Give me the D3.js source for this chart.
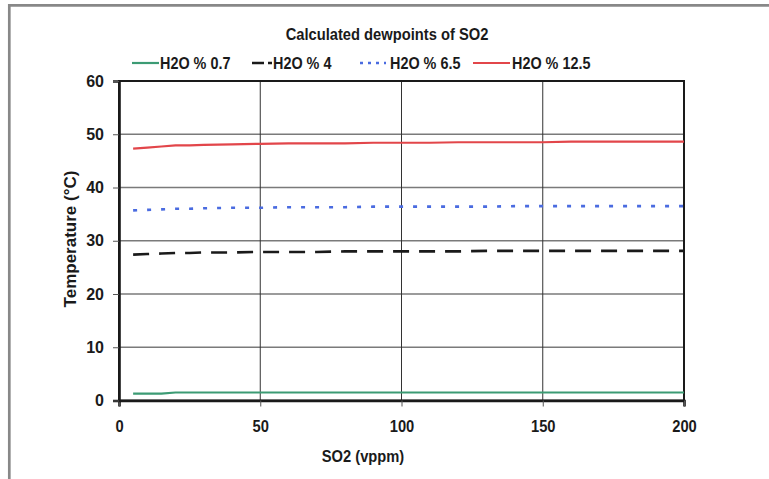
<!DOCTYPE html>
<html>
<head>
<meta charset="utf-8">
<script src="https://cdn.jsdelivr.net/npm/d3@7"></script>
<style>
  body { margin: 0; background: #fff; }
  text { font-family: "Liberation Sans", Arial, sans-serif; font-weight: bold; fill: #1a1a1a; }
  text.narrow { transform-box: fill-box; transform-origin: center; transform: scaleX(0.92); }
  text.narrow-legend { transform-box: fill-box; transform-origin: left center; transform: scaleX(0.9); }
</style>
</head>
<body>
<svg id="chart" width="769" height="479"></svg>
<script>
// SO2 concentration (vppm) at which each dewpoint was calculated
const so2 = [5, 10, 15, 20, 25, 30, 40, 50, 60, 70, 80, 90, 100, 110, 120, 130, 140, 150, 160, 170, 180, 190, 200];

// Dewpoint temperature (°C) for each water content
const dew07  = [1.3, 1.3, 1.3, 1.5, 1.5, 1.5, 1.5, 1.5, 1.5, 1.5, 1.5, 1.5, 1.5, 1.5, 1.5, 1.5, 1.5, 1.5, 1.5, 1.5, 1.5, 1.5, 1.5];
const dew4   = [27.4, 27.5, 27.6, 27.7, 27.7, 27.8, 27.8, 27.9, 27.9, 27.9, 28.0, 28.0, 28.0, 28.0, 28.0, 28.1, 28.1, 28.1, 28.1, 28.1, 28.1, 28.1, 28.1];
const dew65  = [35.7, 35.8, 35.9, 36.0, 36.0, 36.1, 36.2, 36.2, 36.3, 36.3, 36.3, 36.4, 36.4, 36.4, 36.4, 36.4, 36.5, 36.5, 36.5, 36.5, 36.5, 36.5, 36.5];
const dew125 = [47.3, 47.5, 47.7, 47.9, 47.9, 48.0, 48.1, 48.2, 48.3, 48.3, 48.3, 48.4, 48.4, 48.4, 48.5, 48.5, 48.5, 48.5, 48.6, 48.6, 48.6, 48.6, 48.6];

const seriesNames = ["H2O % 0.7", "H2O % 4", "H2O % 6.5", "H2O % 12.5"];
const xTicks = [0, 50, 100, 150, 200];
const yTicks = [0, 10, 20, 30, 40, 50, 60];

const title = "Calculated dewpoints of SO2";
const xTitle = "SO2 (vppm)";
const yTitle = "Temperature (°C)";

// Line styles per series
const styles = [
  { color: "#3c9b74", width: 2.2, dash: null,    legendDash: null },
  { color: "#1a1a1a", width: 2.6, dash: "16,10", legendDash: "12,4" },
  { color: "#4a6be0", width: 2.6, dash: "4,10",  legendDash: "3,5" },
  { color: "#e2464a", width: 2.2, dash: null,    legendDash: null }
];
// Legend sample extents (start, end) and text start
const legendLayout = [
  { x0: 132, x1: 159, tx: 160 },
  { x0: 252, x1: 272, tx: 273 },
  { x0: 360, x1: 386, tx: 390 },
  { x0: 473, x1: 510, tx: 512 }
];

const series = [dew07, dew4, dew65, dew125].map((vals, i) => ({
  name: seriesNames[i],
  points: so2.map((x, j) => ({ x, y: vals[j] })),
  style: styles[i]
}));

const svg = d3.select("#chart");
const plot = { left: 119, right: 684, top: 81, bottom: 400.5 };

const x = d3.scaleLinear().domain([0, 200]).range([plot.left, plot.right]);
const y = d3.scaleLinear().domain([0, 60]).range([plot.bottom, plot.top]);

// outer page frame (top and left edges)
svg.append("line").attr("x1", 8).attr("x2", 769).attr("y1", 5.3).attr("y2", 5.3)
  .attr("stroke", "#888").attr("stroke-width", 2.7);
svg.append("line").attr("x1", 9.3).attr("x2", 9.3).attr("y1", 4).attr("y2", 479)
  .attr("stroke", "#888").attr("stroke-width", 2.7);

// gridlines
svg.append("g").selectAll("line").data(yTicks.filter(d => d > 0 && d < 60)).join("line")
  .attr("x1", plot.left).attr("x2", plot.right)
  .attr("y1", d => y(d)).attr("y2", d => y(d))
  .attr("stroke", "#7a7a7a").attr("stroke-width", 1.3);
svg.append("g").selectAll("line").data(xTicks.filter(d => d > 0 && d < 200)).join("line")
  .attr("y1", plot.top).attr("y2", plot.bottom)
  .attr("x1", d => x(d)).attr("x2", d => x(d))
  .attr("stroke", "#333").attr("stroke-width", 1);

// plot border
svg.append("rect")
  .attr("x", plot.left).attr("y", plot.top)
  .attr("width", plot.right - plot.left).attr("height", plot.bottom - plot.top)
  .attr("fill", "none").attr("stroke", "#1a1a1a").attr("stroke-width", 2);

// axes
const xAxis = svg.append("g").attr("transform", `translate(0,${plot.bottom})`)
  .call(d3.axisBottom(x).tickValues(xTicks).tickSize(6).tickPadding(14).tickFormat(d3.format("d")));
const yAxis = svg.append("g").attr("transform", `translate(${plot.left},0)`)
  .call(d3.axisLeft(y).tickValues(yTicks).tickSize(6).tickPadding(9).tickFormat(d3.format("d")));
[xAxis, yAxis].forEach(a => {
  a.select(".domain").attr("stroke", "#1a1a1a").attr("stroke-width", 2.6);
  a.selectAll(".tick line").attr("stroke", "#555").attr("stroke-width", 1);
  a.selectAll(".tick text").attr("font-size", 16).attr("font-family", null)
    .attr("fill", "#1a1a1a").attr("class", "narrow");
});
yAxis.selectAll(".tick text").attr("class", null);

// series lines
const line = d3.line().x(d => x(d.x)).y(d => y(d.y));
svg.append("g").selectAll("path").data(series).join("path")
  .attr("d", d => line(d.points))
  .attr("fill", "none")
  .attr("stroke", d => d.style.color)
  .attr("stroke-width", d => d.style.width)
  .attr("stroke-dasharray", d => d.style.dash);

// title
svg.append("text").attr("class", "narrow").attr("x", 387).attr("y", 40.5)
  .attr("text-anchor", "middle").attr("font-size", 16).text(title);

// legend
const legend = svg.append("g").selectAll("g").data(series).join("g");
legend.append("line")
  .attr("x1", (d, i) => legendLayout[i].x0).attr("x2", (d, i) => legendLayout[i].x1)
  .attr("y1", 63).attr("y2", 63)
  .attr("stroke", d => d.style.color)
  .attr("stroke-width", d => d.style.width)
  .attr("stroke-dasharray", d => d.style.legendDash);
legend.append("text").attr("class", "narrow-legend")
  .attr("x", (d, i) => legendLayout[i].tx).attr("y", 69)
  .attr("font-size", 16).text(d => d.name);

// axis titles
svg.append("text").attr("class", "narrow").attr("x", 363).attr("y", 462)
  .attr("text-anchor", "middle").attr("font-size", 16).text(xTitle);
svg.append("text").attr("transform", "translate(76,239) rotate(-90)")
  .attr("text-anchor", "middle").attr("font-size", 17).text(yTitle);
</script>
</body>
</html>
